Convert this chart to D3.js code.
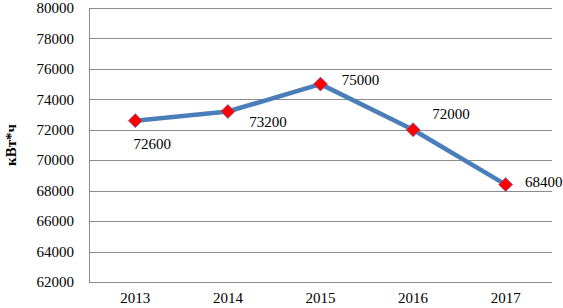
<!DOCTYPE html>
<html><head><meta charset="utf-8">
<script src="https://cdn.jsdelivr.net/npm/d3@7/dist/d3.min.js"></script>
<style>body{margin:0;background:#fff}svg{display:block}
text{font-family:"Liberation Serif","Times New Roman",Times,"DejaVu Serif",serif}</style>
</head><body>
<svg id="c" width="563" height="308"></svg>
<script>
const years = ["2013","2014","2015","2016","2017"];
const values = [72600,73200,75000,72000,68400];
const yTicks = [62000,64000,66000,68000,70000,72000,74000,76000,78000,80000];
const yTitle = "кВт*ч";
const labelOffsets = [[17,23],[40,10],[40,-4],[38,-16],[38,-3]];

const svg = d3.select("#c");
const m = {l:89, r:11, t:8, b:26};
const W = 563, H = 308;
const x = d3.scaleBand().domain(years).range([m.l, W-m.r]);
const y = d3.scaleLinear().domain([62000,80000]).range([H-m.b, m.t]);
const fs = 15;

svg.append("g").selectAll("line").data(yTicks).join("line")
  .attr("x1", m.l).attr("x2", W-m.r)
  .attr("y1", d=>Math.round(y(d))+0.5).attr("y2", d=>Math.round(y(d))+0.5)
  .attr("stroke", "#8c8c8c").attr("stroke-width", 1);
svg.append("line").attr("x1", m.l+0.5).attr("x2", m.l+0.5).attr("y1", y(80000)).attr("y2", y(62000))
  .attr("stroke", "#8c8c8c");

svg.append("g").selectAll("text").data(yTicks).join("text")
  .attr("x", m.l-15).attr("y", d=>y(d)).attr("dy","0.35em")
  .attr("text-anchor","end").attr("font-size", fs)
  .attr("fill","#000").text(d=>d);

svg.append("g").selectAll("text").data(years).join("text")
  .attr("x", d=>x(d)+x.bandwidth()/2).attr("y", H-m.b+21)
  .attr("text-anchor","middle").attr("font-size", fs)
  .attr("fill","#000").text(d=>d);

svg.append("text").attr("transform", `translate(16,${(m.t+H-m.b)/2}) rotate(-90)`)
  .attr("text-anchor","middle").attr("font-size", fs)
  .attr("font-weight","bold").text(yTitle);

const cx = (d,i)=>x(years[i])+x.bandwidth()/2;
const line = d3.line().x((d,i)=>cx(d,i)).y(d=>y(d));
svg.append("path").datum(values).attr("d", line).attr("fill","none")
  .attr("stroke","#4a7ebb").attr("stroke-width",4.5).attr("stroke-linejoin","round");

const r = 7;
svg.append("g").selectAll("path").data(values).join("path")
  .attr("d", `M0,${-r}L${r},0L0,${r}L${-r},0Z`)
  .attr("transform",(d,i)=>`translate(${cx(d,i)},${y(d)})`)
  .attr("fill","#ff0000").attr("stroke","#6a6fb0").attr("stroke-width",0.8);

svg.append("g").selectAll("text").data(values).join("text")
  .attr("x",(d,i)=>cx(d,i)+labelOffsets[i][0]).attr("y",(d,i)=>y(d)+labelOffsets[i][1]).attr("dy","0.35em")
  .attr("text-anchor","middle").attr("font-size", fs)
  .attr("fill","#000").text(d=>d);
</script>
</body></html>
